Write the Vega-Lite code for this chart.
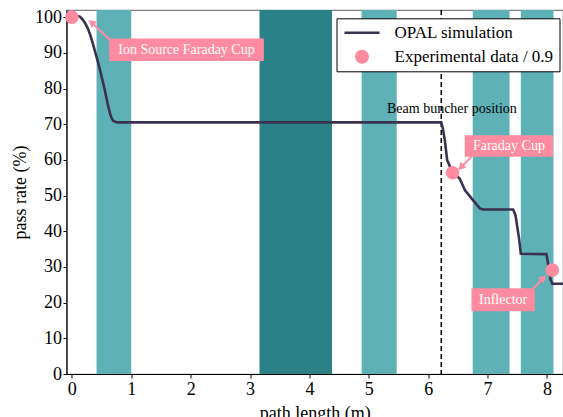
{
  "$schema": "https://vega.github.io/schema/vega-lite/v6.json",
  "width": 496.5,
  "height": 364,
  "autosize": {"type": "none"},
  "padding": {"left": 66.5, "top": 10, "right": 0, "bottom": 43},
  "config": {
    "font": "Liberation Serif",
    "view": {"stroke": "#808080", "strokeWidth": 1.2},
    "axis": {
      "labelFont": "Liberation Serif",
      "titleFont": "Liberation Serif",
      "labelFontSize": 18,
      "titleFontSize": 18,
      "titleFontWeight": "normal",
      "labelColor": "#000000",
      "titleColor": "#000000",
      "domainColor": "#000000",
      "domainWidth": 1.2,
      "tickColor": "#000000",
      "tickWidth": 1,
      "grid": false,
      "labelOverlap": false
    },
    "axisY": {"tickCount": 11}
  },
  "datasets": {
    "bands": [
      {"start": 0.416, "end": 1.0, "kind": "light"},
      {"start": 3.16, "end": 4.38, "kind": "dark"},
      {"start": 4.88, "end": 5.47, "kind": "light"},
      {"start": 6.75, "end": 7.37, "kind": "light"},
      {"start": 7.56, "end": 8.11, "kind": "light"}
    ],
    "sim": [
      {"length": 0.0, "rate": 100.3, "series": "OPAL simulation"},
      {"length": 0.1, "rate": 100.3, "series": "OPAL simulation"},
      {"length": 0.14, "rate": 100.1, "series": "OPAL simulation"},
      {"length": 0.18, "rate": 99.4, "series": "OPAL simulation"},
      {"length": 0.224, "rate": 98.3, "series": "OPAL simulation"},
      {"length": 0.27, "rate": 96.8, "series": "OPAL simulation"},
      {"length": 0.31, "rate": 95.0, "series": "OPAL simulation"},
      {"length": 0.35, "rate": 92.8, "series": "OPAL simulation"},
      {"length": 0.39, "rate": 90.4, "series": "OPAL simulation"},
      {"length": 0.44, "rate": 87.4, "series": "OPAL simulation"},
      {"length": 0.48, "rate": 84.8, "series": "OPAL simulation"},
      {"length": 0.52, "rate": 82.0, "series": "OPAL simulation"},
      {"length": 0.56, "rate": 79.2, "series": "OPAL simulation"},
      {"length": 0.59, "rate": 76.8, "series": "OPAL simulation"},
      {"length": 0.62, "rate": 74.5, "series": "OPAL simulation"},
      {"length": 0.645, "rate": 72.9, "series": "OPAL simulation"},
      {"length": 0.67, "rate": 71.7, "series": "OPAL simulation"},
      {"length": 0.7, "rate": 70.9, "series": "OPAL simulation"},
      {"length": 0.76, "rate": 70.5, "series": "OPAL simulation"},
      {"length": 6.22, "rate": 70.5, "series": "OPAL simulation"},
      {"length": 6.25, "rate": 68.5, "series": "OPAL simulation"},
      {"length": 6.28, "rate": 65.5, "series": "OPAL simulation"},
      {"length": 6.32, "rate": 59.9, "series": "OPAL simulation"},
      {"length": 6.41, "rate": 56.5, "series": "OPAL simulation"},
      {"length": 6.53, "rate": 54.8, "series": "OPAL simulation"},
      {"length": 6.62, "rate": 51.5, "series": "OPAL simulation"},
      {"length": 6.73, "rate": 49.2, "series": "OPAL simulation"},
      {"length": 6.87, "rate": 46.4, "series": "OPAL simulation"},
      {"length": 6.92, "rate": 46.1, "series": "OPAL simulation"},
      {"length": 7.43, "rate": 46.1, "series": "OPAL simulation"},
      {"length": 7.47, "rate": 44.5, "series": "OPAL simulation"},
      {"length": 7.53, "rate": 38.0, "series": "OPAL simulation"},
      {"length": 7.56, "rate": 33.7, "series": "OPAL simulation"},
      {"length": 7.99, "rate": 33.6, "series": "OPAL simulation"},
      {"length": 8.03, "rate": 30.0, "series": "OPAL simulation"},
      {"length": 8.06, "rate": 26.5, "series": "OPAL simulation"},
      {"length": 8.09, "rate": 25.3, "series": "OPAL simulation"},
      {"length": 8.3, "rate": 25.3, "series": "OPAL simulation"}
    ],
    "exp": [
      {"length": 0.0, "rate": 100.0, "series": "Experimental data / 0.9"},
      {"length": 6.41, "rate": 56.4, "series": "Experimental data / 0.9"},
      {"length": 8.09, "rate": 29.1, "series": "Experimental data / 0.9"}
    ],
    "arrows": [
      {"name": "ion", "x0": 0.67, "y0": 93.2, "x1": 0.33, "y1": 98.5},
      {"name": "fc", "x0": 6.73, "y0": 60.9, "x1": 6.55, "y1": 57.9},
      {"name": "inf", "x0": 7.77, "y0": 24.0, "x1": 7.94, "y1": 26.9}
    ],
    "labels": [
      {"label": "Ion Source Faraday Cup", "x0": 0.628, "x1": 3.232, "y0": 87.7, "y1": 94.0},
      {"label": "Faraday Cup", "x0": 6.616, "x1": 8.103, "y0": 60.9, "y1": 66.9},
      {"label": "Inflector", "x0": 6.729, "x1": 7.795, "y0": 17.6, "y1": 24.0}
    ],
    "notes": [
      {"label": "Beam buncher position", "length": 6.40, "rate": 74.2}
    ],
    "buncher": [{"length": 6.22}]
  },
  "layer": [
    {
      "data": {"name": "sim"},
      "mark": {"type": "line", "strokeWidth": 2.6, "clip": true, "opacity": 0},
      "encoding": {
        "x": {"field": "length", "type": "quantitative", "scale": {"domain": [-0.09, 8.27], "nice": false, "zero": false}, "axis": {"values": [0,1,2,3,4,5,6,7,8], "format": "d", "tickSize": 4, "labelPadding": 2, "title": "path length (m)", "titlePadding": 6}},
        "y": {"field": "rate", "type": "quantitative", "scale": {"domain": [0, 102], "nice": false}, "axis": {"values": [0,10,20,30,40,50,60,70,80,90,100], "tickCount": 11, "format": "d", "tickSize": 3.5, "labelPadding": 1.5, "title": "pass rate (%)", "titlePadding": 5}}
      }
    },
    {
      "data": {"name": "bands"},
      "mark": {"type": "rect", "opacity": 1},
      "encoding": {
        "x": {"field": "start", "type": "quantitative"},
        "x2": {"field": "end"},
        "fill": {"field": "kind", "type": "nominal", "scale": {"domain": ["light", "dark"], "range": ["#5fb1b8", "#2a8288"]}, "legend": null}
      }
    },
    {
      "data": {"name": "buncher"},
      "mark": {"type": "rule", "color": "#000000", "strokeWidth": 1.5, "strokeDash": [5, 3]},
      "encoding": {
        "x": {"field": "length", "type": "quantitative"}
      }
    },
    {
      "data": {"name": "sim"},
      "mark": {"type": "line", "strokeWidth": 2.6, "clip": true},
      "encoding": {
        "x": {"field": "length", "type": "quantitative"},
        "y": {"field": "rate", "type": "quantitative"},
        "color": {
          "field": "series", "type": "nominal",
          "scale": {"domain": ["OPAL simulation", "Experimental data / 0.9"], "range": ["#3b3150", "#ff8ba0"]},
          "legend": {
            "title": null,
            "orient": "none",
            "legendX": 270,
            "legendY": 8.3,
            "strokeColor": "#000000",
            "fillColor": "#ffffff",
            "padding": 6,
            "labelFont": "Liberation Serif",
            "labelFontSize": 17,
            "labelColor": "#000000",
            "labelOffset": 24,
            "symbolOffset": 11,
            "rowPadding": 6,
            "symbolSize": 196,
            "symbolStrokeWidth": 2.6,
            "encode": {
              "symbols": {
                "update": {
                  "shape": {"signal": "datum.value === 'OPAL simulation' ? 'stroke' : 'circle'"},
                  "size": {"signal": "datum.value === 'OPAL simulation' ? 1225 : 196"},
                  "fill": {"signal": "datum.value === 'OPAL simulation' ? 'transparent' : '#ff8ba0'"},
                  "stroke": {"signal": "datum.value === 'OPAL simulation' ? '#3b3150' : '#ff8ba0'"},
                  "strokeWidth": {"signal": "datum.value === 'OPAL simulation' ? 2.6 : 0"},
                  "opacity": {"value": 1}
                }
              }
            }
          }
        }
      }
    },
    {
      "data": {"name": "exp"},
      "mark": {"type": "point", "filled": true, "opacity": 1, "size": 185, "shape": "circle"},
      "encoding": {
        "x": {"field": "length", "type": "quantitative"},
        "y": {"field": "rate", "type": "quantitative"},
        "color": {"field": "series", "type": "nominal"}
      }
    },
    {
      "data": {"name": "arrows"},
      "mark": {"type": "rule", "color": "#ff8ba0", "strokeWidth": 2},
      "encoding": {
        "x": {"field": "x0", "type": "quantitative"},
        "y": {"field": "y0", "type": "quantitative"},
        "x2": {"field": "x1"},
        "y2": {"field": "y1"}
      }
    },
    {
      "data": {"name": "arrows"},
      "transform": [{"filter": "datum.name === 'ion'"}],
      "mark": {"type": "point", "shape": "triangle-up", "filled": true, "color": "#ff8ba0", "opacity": 1, "size": 70, "angle": 308},
      "encoding": {
        "x": {"field": "x1", "type": "quantitative"},
        "y": {"field": "y1", "type": "quantitative"}
      }
    },
    {
      "data": {"name": "arrows"},
      "transform": [{"filter": "datum.name === 'fc'"}],
      "mark": {"type": "point", "shape": "triangle-up", "filled": true, "color": "#ff8ba0", "opacity": 1, "size": 70, "angle": 225},
      "encoding": {
        "x": {"field": "x1", "type": "quantitative"},
        "y": {"field": "y1", "type": "quantitative"}
      }
    },
    {
      "data": {"name": "arrows"},
      "transform": [{"filter": "datum.name === 'inf'"}],
      "mark": {"type": "point", "shape": "triangle-up", "filled": true, "color": "#ff8ba0", "opacity": 1, "size": 70, "angle": 45},
      "encoding": {
        "x": {"field": "x1", "type": "quantitative"},
        "y": {"field": "y1", "type": "quantitative"}
      }
    },
    {
      "data": {"name": "labels"},
      "mark": {"type": "rect", "color": "#ff8ba0", "opacity": 1},
      "encoding": {
        "x": {"field": "x0", "type": "quantitative"},
        "x2": {"field": "x1"},
        "y": {"field": "y0", "type": "quantitative"},
        "y2": {"field": "y1"}
      }
    },
    {
      "data": {"name": "labels"},
      "transform": [{"calculate": "(datum.x0 + datum.x1) / 2", "as": "xc"}, {"calculate": "(datum.y0 + datum.y1) / 2", "as": "yc"}],
      "mark": {"type": "text", "color": "#ffffff", "font": "Liberation Serif", "fontSize": 14, "align": "center", "baseline": "middle"},
      "encoding": {
        "x": {"field": "xc", "type": "quantitative"},
        "y": {"field": "yc", "type": "quantitative"},
        "text": {"field": "label"}
      }
    },
    {
      "data": {"name": "notes"},
      "mark": {"type": "text", "color": "#000000", "font": "Liberation Serif", "fontSize": 14, "align": "center", "baseline": "middle"},
      "encoding": {
        "x": {"field": "length", "type": "quantitative"},
        "y": {"field": "rate", "type": "quantitative"},
        "text": {"field": "label"}
      }
    }
  ]
}
